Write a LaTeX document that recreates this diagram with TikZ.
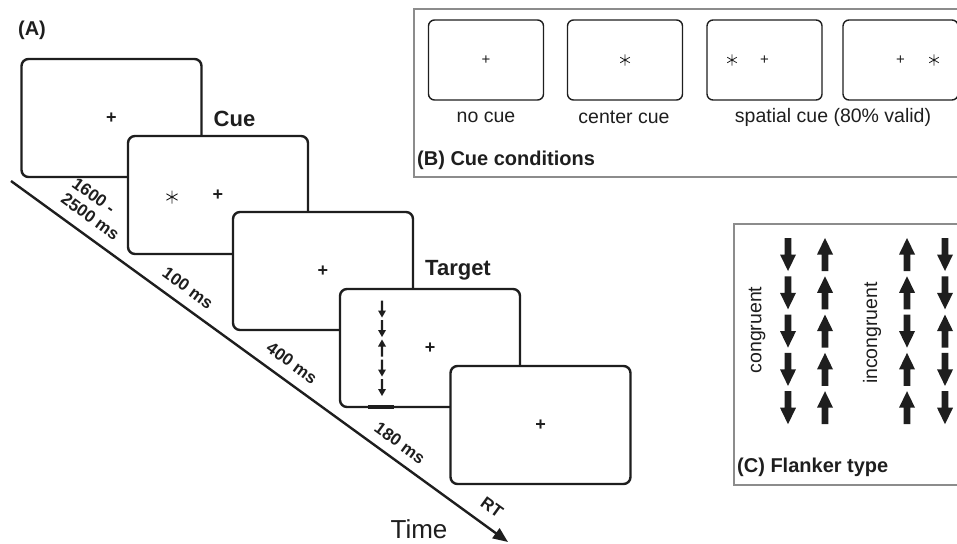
\documentclass[tikz,border=0pt]{standalone}
\usepackage{fontspec}
\setmainfont{Liberation Sans}
\usetikzlibrary{arrows.meta}
\definecolor{ink}{HTML}{1E1E1E}
\definecolor{framegray}{HTML}{8C8C8C}
\begin{document}
\begin{tikzpicture}[x=1pt,y=-1pt,
  scr/.style={draw=ink, line width=2.4pt, fill=white, rounded corners=7pt,
    minimum width=180pt, minimum height=118pt, inner sep=0pt,
    font=\fontsize{18}{18}\bfseries\selectfont, text=ink},
  cuescr/.style={draw=ink, line width=1.4pt, fill=white, rounded corners=6pt,
    minimum width=115pt, minimum height=80pt, inner sep=0pt,
    font=\fontsize{15}{15}\selectfont, text=ink},
  panel/.style={draw=framegray, line width=1.3pt},
  head/.style={font=\fontsize{22}{22}\bfseries\selectfont, text=ink, inner sep=0pt},
  panlbl/.style={font=\fontsize{20}{20}\bfseries\selectfont, text=ink, inner sep=0pt},
  cond/.style={font=\fontsize{19.5}{20}\selectfont, text=ink, inner sep=0pt},
  tlbl/.style={font=\fontsize{17}{19}\bfseries\selectfont, text=ink, inner sep=0pt, rotate=-36},
  timeline/.style={draw=ink, line width=2.4pt, -{Triangle[length=15pt,width=12pt]}},
  flk/.pic={\fill[ink] (-3.4,-16.5) -- (3.4,-16.5) -- (3.4,0) -- (8,0) -- (0,16.5) -- (-8,0) -- (-3.4,0) -- cycle;},
  tgt/.pic={\fill[ink] (-1.1,-8.5) -- (1.1,-8.5) -- (1.1,1.5) -- (4,1.5) -- (0,8.5) -- (-4,1.5) -- (-1.1,1.5) -- cycle;},
  astA/.pic={\draw[ink, line width=0.9pt] (0,-6.5) -- (0,6.5) (-5.6,-3.25) -- (5.6,3.25) (-5.6,3.25) -- (5.6,-3.25);},
  astB/.pic={\draw[ink, line width=0.8pt] (0,-5.5) -- (0,5.5) (-4.8,-2.75) -- (4.8,2.75) (-4.8,2.75) -- (4.8,-2.75);}
]
\useasboundingbox (0,0) rectangle (957,543);
\clip (0,0) rectangle (957,543);

% ---------- (A) ----------
\node[panlbl] (labA) at (32,30) {(A)};

\node[scr] (s1) at (111.5,118) {+};
\node[scr] (s2) at (218,195) {+};
\pic at (172,197) {astA};
\node[scr] (s3) at (323,271) {+};
\node[scr] (s4) at (430,348) {+};
\draw[ink, line width=4pt] (368,407) -- (394,407);
\foreach \yy/\rr in {309/0, 328.5/0, 348/180, 368/0, 387.5/0}
  \pic[rotate=\rr] at (382,\yy) {tgt};
\node[scr] (s5) at (540.5,425) {+};

\node[head] (cue) at (234.5,119) {Cue};
\node[head] (target) at (458,270) {Target};

\coordinate (t0) at (11,181);
\coordinate (t1) at (508,542);
\draw[timeline] (t0) -- (t1);

\node[tlbl, align=left] (d1) at (96,209) {1600 -\\2500 ms};
\node[tlbl] (d2) at (188,288) {100 ms};
\node[tlbl] (d3) at (292,363) {400 ms};
\node[tlbl] (d4) at (400,443) {180 ms};
\node[tlbl] (d5) at (492,507) {RT};
\node[font=\fontsize{26}{26}\selectfont, text=ink, inner sep=0pt] (time) at (419,529) {Time};

% ---------- (B) ----------
\draw[panel] (965,9) -- (414,9) -- (414,177) -- (965,177);
\node[cuescr] (b1) at (486,60) {+};
\node[cuescr] (b2) at (625,60) {};
\pic at (625,60) {astB};
\node[cuescr] (b3) at (764.5,60) {+};
\pic at (732,60) {astB};
\node[cuescr] (b4) at (900.5,60) {+};
\pic at (934,60) {astB};
\node[cond] (nocue) at (486,117) {no cue};
\node[cond] (centercue) at (624,117) {center cue};
\node[cond] (spatialcue) at (833,117) {spatial cue (80\% valid)};
\node[panlbl, anchor=west] (labB) at (417,160) {(B) Cue conditions};

% ---------- (C) ----------
\draw[panel] (965,224) -- (734,224) -- (734,485) -- (965,485);
\foreach \yy in {254.5, 292.8, 331.1, 369.4, 407.7} {
  \pic at (788,\yy) {flk};
  \pic[rotate=180] at (825,\yy) {flk};
}
\foreach \yy/\ra/\rb in {254.5/180/0, 292.8/180/0, 331.1/0/180, 369.4/180/0, 407.7/180/0} {
  \pic[rotate=\ra] at (907,\yy) {flk};
  \pic[rotate=\rb] at (945,\yy) {flk};
}
\node[cond, rotate=90] (congruent) at (757,330) {congruent};
\node[cond, rotate=90] (incongruent) at (872,333) {incongruent};
\node[panlbl, anchor=west] (labC) at (737,467) {(C) Flanker type};
\end{tikzpicture}
\end{document}
